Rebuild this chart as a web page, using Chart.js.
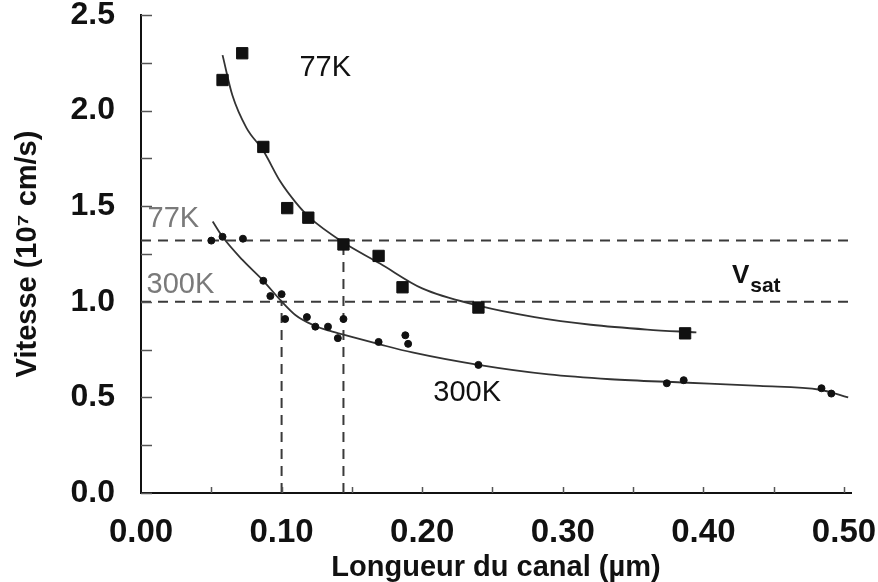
<!DOCTYPE html>
<html lang="fr">
<head>
<meta charset="UTF-8"/>
<title>Vitesse en fonction de la longueur du canal</title>
<script src="https://cdn.jsdelivr.net/npm/chart.js@4/dist/chart.umd.min.js"></script>
<style>
  *{margin:0;padding:0;box-sizing:border-box}
  body{background:#fff;width:878px;height:582px;overflow:hidden}
  #wrap{position:relative;width:878px;height:582px}
</style>
</head>
<body>
<div id="wrap"><canvas id="c" width="878" height="582"></canvas></div>
<script>
// 77K : mesures (carrés)
const L77 = [0.058, 0.072, 0.087, 0.104, 0.119, 0.144, 0.169, 0.186, 0.240, 0.387];
const V77 = [2.16, 2.30, 1.81, 1.49, 1.44, 1.30, 1.24, 1.076, 0.97, 0.835];
// 77K : courbe ajustée
const L77fit = [0.058, 0.065, 0.075, 0.087, 0.099, 0.110, 0.120, 0.144, 0.170, 0.200, 0.240, 0.280, 0.320, 0.360, 0.395];
const V77fit = [2.29, 2.08, 1.91, 1.79, 1.63, 1.52, 1.44, 1.31, 1.20, 1.07, 0.98, 0.92, 0.88, 0.855, 0.84];

// 300K : mesures (points)
const L300 = [0.050, 0.058, 0.0725, 0.087, 0.092, 0.100, 0.1025, 0.118, 0.124, 0.133, 0.140, 0.144, 0.169, 0.188, 0.190, 0.240, 0.374, 0.386, 0.484, 0.491];
const V300 = [1.32, 1.34, 1.33, 1.11, 1.03, 1.04, 0.91, 0.92, 0.87, 0.87, 0.81, 0.91, 0.79, 0.825, 0.78, 0.67, 0.574, 0.59, 0.548, 0.52];
// 300K : courbe ajustée
const L300fit = [0.051, 0.058, 0.072, 0.087, 0.099, 0.110, 0.122, 0.133, 0.144, 0.170, 0.193, 0.240, 0.290, 0.334, 0.385, 0.440, 0.483, 0.503];
const V300fit = [1.42, 1.34, 1.22, 1.11, 1.01, 0.93, 0.88, 0.85, 0.828, 0.777, 0.735, 0.67, 0.62, 0.595, 0.578, 0.56, 0.54, 0.50];

// vitesses de saturation et longueurs correspondantes
const VSAT77 = 1.32, VSAT300 = 1.0;
const LSAT77 = 0.144, LSAT300 = 0.10;
const LMAX = 0.503;

// étiquettes : texte, x (µm), y (1e7 cm/s)
const notes = [
  {text: '77K',  x: 0.131, y: 2.222, color: '#111'},
  {text: '300K', x: 0.232, y: 0.522, color: '#111'},
  {text: '77K',  x: 0.023, y: 1.431, color: '#7a7a7a'},
  {text: '300K', x: 0.028, y: 1.086, color: '#7a7a7a'},
];
const vsatPos = {x: 0.4203, y: 1.097};

const zip = (xs, ys) => xs.map((v, i) => ({x: v, y: ys[i]}));
const onStep = (v, s) => Math.abs(v / s - Math.round(v / s)) < 1e-6;
const FONT = "'Liberation Sans', Arial, sans-serif";
Chart.defaults.font.family = FONT;
Chart.defaults.color = '#111';

const dash = {borderColor: '#3a3a3a', borderWidth: 2, borderDash: [10, 7], pointRadius: 0, showLine: true, fill: false, order: 5};

const extras = {
  id: 'extras',
  afterDatasetsDraw(chart) {
    const {ctx, scales: {x, y}} = chart;
    ctx.save();
    // graduations internes
    ctx.strokeStyle = '#555';
    ctx.lineWidth = 1.5;
    y.ticks.forEach(t => {
      if (!onStep(t.value, 0.25)) return;
      const py = Math.round(y.getPixelForValue(t.value)) + 0.5;
      ctx.beginPath(); ctx.moveTo(x.left, py); ctx.lineTo(x.left + 11, py); ctx.stroke();
    });
    x.ticks.forEach(t => {
      if (!onStep(t.value, 0.05) || t.value === 0) return;
      const px = Math.round(x.getPixelForValue(t.value)) + 0.5;
      ctx.beginPath(); ctx.moveTo(px, y.bottom); ctx.lineTo(px, y.bottom - 6); ctx.stroke();
    });
    // textes
    ctx.textAlign = 'center';
    ctx.textBaseline = 'middle';
    ctx.font = '29px ' + FONT;
    notes.forEach(n => {
      ctx.fillStyle = n.color;
      ctx.fillText(n.text, x.getPixelForValue(n.x), y.getPixelForValue(n.y));
    });
    // V_sat
    const vx = x.getPixelForValue(vsatPos.x), vy = y.getPixelForValue(vsatPos.y);
    ctx.fillStyle = '#111';
    ctx.textAlign = 'left';
    ctx.textBaseline = 'alphabetic';
    ctx.font = 'bold 26px ' + FONT;
    ctx.fillText('V', vx, vy);
    const w = ctx.measureText('V').width;
    ctx.font = 'bold 21px ' + FONT;
    ctx.fillText('sat', vx + w + 1, vy + 9);
    ctx.restore();
  }
};

new Chart(document.getElementById('c'), {
  type: 'scatter',
  data: {datasets: [
    {label: '77K', data: zip(L77, V77), pointStyle: 'rect', pointRadius: 8, backgroundColor: '#111', borderColor: '#111', borderWidth: 1, order: 1},
    {label: '300K', data: zip(L300, V300), pointStyle: 'circle', pointRadius: 3.5, backgroundColor: '#111', borderColor: '#111', borderWidth: 1, order: 1},
    {label: 'fit 77K', data: zip(L77fit, V77fit), showLine: true, pointRadius: 0, borderColor: '#333', borderWidth: 1.8, cubicInterpolationMode: 'monotone', order: 3},
    {label: 'fit 300K', data: zip(L300fit, V300fit), showLine: true, pointRadius: 0, borderColor: '#333', borderWidth: 1.8, cubicInterpolationMode: 'monotone', order: 3},
    {label: 'vsat 77K', data: [{x: 0, y: VSAT77}, {x: LMAX, y: VSAT77}], ...dash},
    {label: 'vsat 300K', data: [{x: 0, y: VSAT300}, {x: LMAX, y: VSAT300}], ...dash},
    {label: 'L 77K', data: [{x: LSAT77, y: 0}, {x: LSAT77, y: VSAT77}], ...dash},
    {label: 'L 300K', data: [{x: LSAT300, y: 0}, {x: LSAT300, y: VSAT300}], ...dash},
  ]},
  options: {
    responsive: false,
    animation: false,
    layout: {padding: {top: 15, right: 27, left: 0, bottom: 0}},
    plugins: {legend: {display: false}, tooltip: {enabled: false}},
    scales: {
      x: {
        type: 'linear', min: 0, max: 0.505,
        grid: {display: false},
        border: {display: true, color: '#111', width: 2},
        ticks: {stepSize: 0.05, includeBounds: false, autoSkip: false, maxRotation: 0, padding: 12, color: '#111',
          font: {size: 33, weight: 'bold'},
          callback: v => onStep(v, 0.1) ? v.toFixed(2) : ''},
        title: {display: true, text: 'Longueur du canal (µm)', color: '#111',
          font: {size: 29, weight: 'bold'}, padding: {top: 0, bottom: -3}},
        afterFit: s => { s.height = 89; s.paddingLeft = 0; s.paddingRight = 0; }
      },
      y: {
        type: 'linear', min: 0, max: 2.5,
        grid: {display: false},
        border: {display: true, color: '#111', width: 2},
        ticks: {stepSize: 0.25, autoSkip: false, padding: 18, color: '#111',
          font: {size: 32, weight: 'bold'},
          callback: v => onStep(v, 0.5) ? v.toFixed(1) : ''},
        title: {display: true, text: 'Vitesse (10⁷ cm/s)', color: '#111',
          font: {size: 29, weight: 'bold'}, padding: {top: 11, bottom: 0}},
        afterFit: s => { s.width = 141; s.paddingTop = 0; s.paddingBottom = 0; }
      }
    }
  },
  plugins: [extras]
});
</script>
</body>
</html>
